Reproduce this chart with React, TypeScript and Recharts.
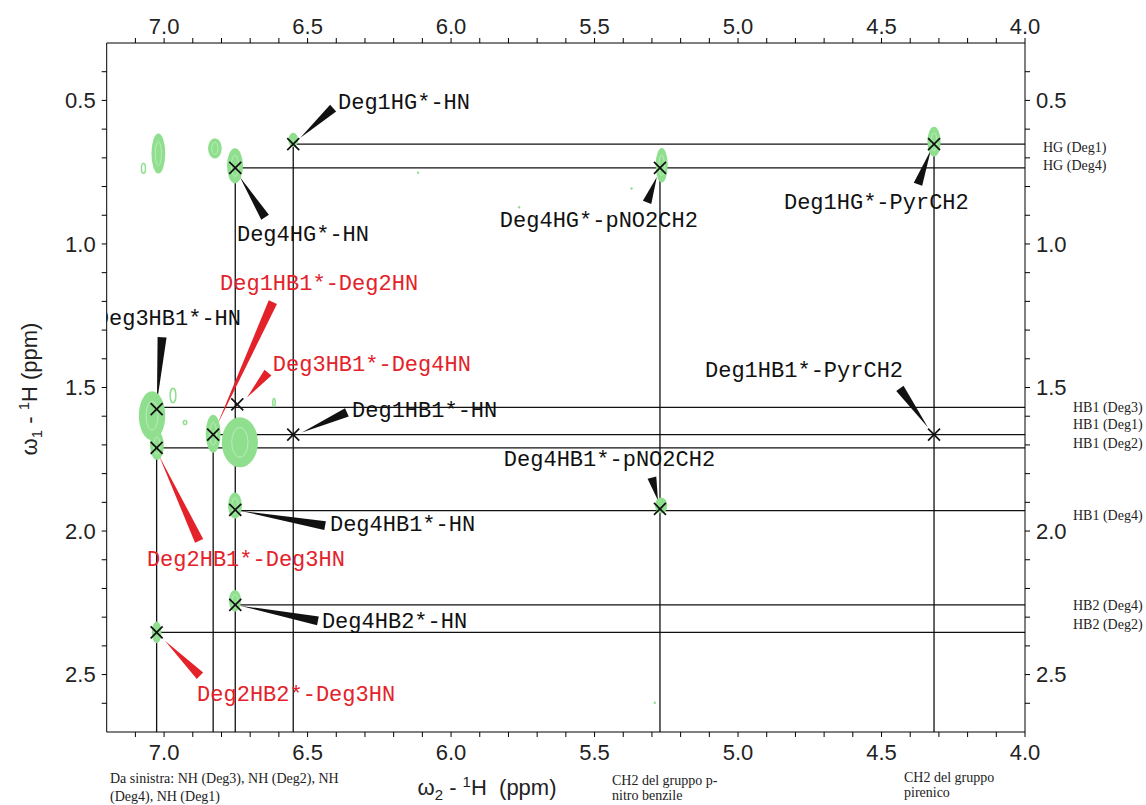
import React from "react";
import { ScatterChart, Scatter, XAxis, YAxis, ReferenceLine, ReferenceDot } from "recharts";

// ---- chart frame ----
const W = 1146;
const H = 805;
const AX = { left: 106.7, right: 121, top: 43, bottom: 73 };
const W2_DOMAIN: [number, number] = [4.0, 7.2];
const W1_DOMAIN: [number, number] = [0.3, 2.7];
const PX_W2 = (W - AX.left - AX.right) / (W2_DOMAIN[1] - W2_DOMAIN[0]);
const PX_W1 = (H - AX.top - AX.bottom) / (W1_DOMAIN[1] - W1_DOMAIN[0]);

const W2_TICKS = [
  7.1, 7.0, 6.9, 6.8, 6.7, 6.6, 6.5, 6.4, 6.3, 6.2, 6.1, 6.0, 5.9, 5.8, 5.7, 5.6,
  5.5, 5.4, 5.3, 5.2, 5.1, 5.0, 4.9, 4.8, 4.7, 4.6, 4.5, 4.4, 4.3, 4.2, 4.1, 4.0,
];
const W1_TICKS = [
  0.4, 0.5, 0.6, 0.7, 0.8, 0.9, 1.0, 1.1, 1.2, 1.3, 1.4, 1.5, 1.6, 1.7, 1.8, 1.9,
  2.0, 2.1, 2.2, 2.3, 2.4, 2.5, 2.6,
];

// ---- contour blobs (ppm centre, ppm half-extent) ----
const blobW2 = [7.02, 7.072, 6.823, 6.753, 6.55, 5.266, 4.317, 7.042, 7.025, 6.829, 6.736, 6.753, 6.753, 7.026, 5.268, 6.927, 6.617, 6.969, 5.371, 5.763, 6.115, 5.29];
const blobW1 = [0.685, 0.737, 0.667, 0.728, 0.638, 0.726, 0.644, 1.598, 1.702, 1.661, 1.691, 1.911, 2.243, 2.353, 1.911, 1.622, 1.552, 1.528, 0.807, 0.872, 0.752, 2.598];
const blobSpanW2 = [0.024, 0.007, 0.024, 0.028, 0.017, 0.021, 0.023, 0.046, 0.024, 0.026, 0.063, 0.024, 0.021, 0.017, 0.021, 0.006, 0.004, 0.01, 0.004, 0.004, 0.004, 0.004];
const blobSpanW1 = [0.07, 0.017, 0.035, 0.061, 0.025, 0.06, 0.052, 0.085, 0.05, 0.066, 0.087, 0.045, 0.038, 0.038, 0.028, 0.007, 0.014, 0.025, 0.004, 0.004, 0.004, 0.004];
const blobFilled = [true, false, true, true, true, true, true, true, true, true, true, true, true, true, true, false, false, false, true, true, true, true];

// ---- assigned cross peaks ----
const crossW2 = [6.55, 6.752, 5.272, 4.317, 7.026, 6.745, 6.829, 6.55, 4.317, 7.026, 6.752, 5.272, 6.752, 7.026];
const crossW1 = [0.652, 0.735, 0.735, 0.652, 1.575, 1.559, 1.664, 1.664, 1.664, 1.71, 1.926, 1.923, 2.257, 2.353];

// ---- resonance lines ----
const vLineW2 = [7.026, 6.829, 6.752, 6.55, 5.272, 4.317];
const vLineFromW1 = [1.575, 1.664, 0.735, 0.652, 0.735, 0.652];
const hLineW1 = [0.652, 0.735, 1.569, 1.664, 1.71, 1.929, 2.257, 2.353];
const hLineFromW2 = [6.55, 6.752, 7.026, 6.829, 7.026, 6.752, 6.752, 7.026];

// ---- peak labels ----
const labelText = [
  "Deg1HG*-HN", "Deg4HG*-HN", "Deg4HG*-pNO2CH2", "Deg1HG*-PyrCH2", "Deg3HB1*-HN",
  "Deg1HB1*-Deg2HN", "Deg3HB1*-Deg4HN", "Deg1HB1*-HN", "Deg1HB1*-PyrCH2", "Deg4HB1*-pNO2CH2",
  "Deg4HB1*-HN", "Deg2HB1*-Deg3HN", "Deg4HB2*-HN", "Deg2HB2*-Deg3HN",
];
const labelW2 = [6.394, 6.746, 5.83, 4.84, 7.238, 6.805, 6.621, 6.345, 5.115, 5.816, 6.422, 7.06, 6.45, 6.885];
const labelW1 = [0.53, 0.991, 0.942, 0.879, 1.284, 1.162, 1.441, 1.604, 1.465, 1.772, 1.999, 2.121, 2.337, 2.592];
const labelInter = [false, false, false, false, false, true, true, false, false, false, false, true, false, true];

// pointer wedges: wide end -> tip
const wedgeFromW2 = [6.411, 6.648, 5.317, 4.373, 7.007, 6.621, 6.638, 6.363, 4.436, 5.3, 6.439, 6.878, 6.464, 6.875];
const wedgeFromW1 = [0.527, 0.907, 0.855, 0.792, 1.325, 1.203, 1.448, 1.587, 1.503, 1.814, 1.981, 2.034, 2.313, 2.504];
const wedgeToW2 = [6.526, 6.736, 5.283, 4.328, 7.025, 6.816, 6.711, 6.52, 4.338, 5.279, 6.736, 7.018, 6.736, 6.997];
const wedgeToW1 = [0.631, 0.767, 0.767, 0.673, 1.552, 1.632, 1.535, 1.657, 1.639, 1.894, 1.929, 1.737, 2.26, 2.382];

// ---- right-side assignments ----
const sideText = ["HG (Deg1)", "HG (Deg4)", "HB1 (Deg3)", "HB1 (Deg1)", "HB1 (Deg2)", "HB1 (Deg4)", "HB2 (Deg4)", "HB2 (Deg2)"];
const sideW1 = [0.663, 0.726, 1.569, 1.63, 1.694, 1.946, 2.26, 2.324];

const BLACK = "#111";
const RED = "#e3222a";
const GREEN = "#8fdf8f";
const MONO = "'Liberation Mono', 'Courier New', monospace";
const SANS = "'Liberation Sans', Arial, sans-serif";
const SERIF = "'Liberation Serif', 'Times New Roman', serif";

const blobData = blobW2.map((x, i) => ({ x, y: blobW1[i], sx: blobSpanW2[i], sy: blobSpanW1[i], filled: blobFilled[i] }));
const crossData = crossW2.map((x, i) => ({ x, y: crossW1[i] }));

const fmt = (v: number) => (Math.abs(v * 2 - Math.round(v * 2)) < 1e-6 ? v.toFixed(1) : "");

const BlobShape = (p: any) => {
  const { cx, cy, payload } = p;
  const rx = Math.max(1.2, payload.sx * PX_W2);
  const ry = Math.max(1.2, payload.sy * PX_W1);
  if (!payload.filled) {
    return <ellipse cx={cx} cy={cy} rx={rx} ry={ry} fill="none" stroke={GREEN} strokeWidth={1.5} />;
  }
  return (
    <g>
      <ellipse cx={cx} cy={cy} rx={rx} ry={ry} fill={GREEN} />
      {rx > 5 && ry > 9 && (
        <ellipse cx={cx} cy={cy} rx={rx * 0.45} ry={ry * 0.6} fill="none" stroke="#b9ecb9" strokeWidth={1} />
      )}
    </g>
  );
};

const CrossShape = (p: any) => {
  const { cx, cy } = p;
  const s = 6;
  return (
    <g stroke={BLACK} strokeWidth={1.7}>
      <line x1={cx - s} y1={cy - s} x2={cx + s} y2={cy + s} />
      <line x1={cx - s} y1={cy + s} x2={cx + s} y2={cy - s} />
    </g>
  );
};

const wedgeShape = (color: string, half: number) => (p: any) => {
  const { x1, y1, x2, y2 } = p;
  const dx = x2 - x1;
  const dy = y2 - y1;
  const len = Math.hypot(dx, dy) || 1;
  const nx = (-dy / len) * half;
  const ny = (dx / len) * half;
  return <polygon points={`${x1 + nx},${y1 + ny} ${x1 - nx},${y1 - ny} ${x2},${y2}`} fill={color} />;
};

const tickStyle = { fill: "#222", fontSize: 22, fontFamily: SANS };

export default function App() {
  return (
    <div style={{ position: "absolute", left: 0, top: 0, width: W, height: H, background: "#fff" }}>
      <ScatterChart width={W} height={H} margin={{ top: 0, right: 0, bottom: 0, left: 0 }}>
        <XAxis xAxisId="b" orientation="bottom" type="number" dataKey="x" domain={W2_DOMAIN} reversed
          allowDataOverflow ticks={W2_TICKS} interval={0} tickFormatter={fmt} height={AX.bottom}
          tickSize={5} tickMargin={7} stroke="#000" tick={tickStyle} />
        <XAxis xAxisId="t" orientation="top" type="number" dataKey="x" domain={W2_DOMAIN} reversed
          allowDataOverflow ticks={W2_TICKS} interval={0} tickFormatter={fmt} height={AX.top}
          tickSize={5} tickMargin={4} stroke="#000" tick={tickStyle} />
        <YAxis yAxisId="l" orientation="left" type="number" dataKey="y" domain={W1_DOMAIN} reversed
          allowDataOverflow ticks={W1_TICKS} interval={0} tickFormatter={fmt} width={AX.left}
          tickSize={5} tickMargin={6} stroke="#000" tick={tickStyle} />
        <YAxis yAxisId="r" orientation="right" type="number" dataKey="y" domain={W1_DOMAIN} reversed
          allowDataOverflow ticks={W1_TICKS} interval={0} tickFormatter={fmt} width={AX.right}
          tickSize={5} tickMargin={6} stroke="#000" tick={tickStyle} />

        <Scatter xAxisId="b" yAxisId="l" data={blobData} shape={BlobShape} isAnimationActive={false} />

        {vLineW2.map((x, i) => (
          <ReferenceLine key={`v${i}`} xAxisId="b" yAxisId="l" ifOverflow="visible"
            segment={[{ x, y: vLineFromW1[i] }, { x, y: W1_DOMAIN[1] }]} stroke={BLACK} strokeWidth={1.3} />
        ))}
        {hLineW1.map((y, i) => (
          <ReferenceLine key={`h${i}`} xAxisId="b" yAxisId="l" ifOverflow="visible"
            segment={[{ x: hLineFromW2[i], y }, { x: W2_DOMAIN[0], y }]} stroke={BLACK} strokeWidth={1.3} />
        ))}

        <Scatter xAxisId="b" yAxisId="l" data={crossData} shape={CrossShape} isAnimationActive={false} />

        {wedgeFromW2.map((x, i) => (
          <ReferenceLine key={`w${i}`} xAxisId="b" yAxisId="l" ifOverflow="visible"
            segment={[{ x, y: wedgeFromW1[i] }, { x: wedgeToW2[i], y: wedgeToW1[i] }]}
            shape={wedgeShape(labelInter[i] ? RED : BLACK, 4.5)} />
        ))}

        {labelText.map((t, i) => (
          <ReferenceDot key={`l${i}`} xAxisId="b" yAxisId="l" x={labelW2[i]} y={labelW1[i]} ifOverflow="hidden"
            shape={(p: any) => (
              <text x={p.cx} y={p.cy} clipPath={p.clipPath} fill={labelInter[i] ? RED : BLACK}
                fontFamily={MONO} fontSize={22}>{t}</text>
            )} />
        ))}

        {sideText.map((t, i) => (
          <ReferenceDot key={`s${i}`} xAxisId="b" yAxisId="l" x={W2_DOMAIN[0]} y={sideW1[i]} ifOverflow="visible"
            shape={(p: any) => (
              <text x={p.cx + (t.startsWith("HG") ? 18 : 48)} y={p.cy} dominantBaseline="central"
                fill="#222" fontFamily={SERIF} fontSize={14}>{t}</text>
            )} />
        ))}
      </ScatterChart>

      <svg width={W} height={H} style={{ position: "absolute", left: 0, top: 0, pointerEvents: "none" }}>
        <text x={37} y={389} transform="rotate(-90 37 389)" textAnchor="middle" fontFamily={SANS} fontSize={22} fill="#222">
          ω<tspan fontSize={15} dy={5}>1</tspan><tspan dy={-5}> - </tspan>
          <tspan fontSize={15} dy={-8}>1</tspan><tspan dy={8}>H (ppm)</tspan>
        </text>
        <text x={487} y={795} textAnchor="middle" fontFamily={SANS} fontSize={22} fill="#222">
          ω<tspan fontSize={15} dy={5}>2</tspan><tspan dy={-5}> - </tspan>
          <tspan fontSize={15} dy={-8}>1</tspan><tspan dy={8} style={{ whiteSpace: "pre" }}>H  (ppm)</tspan>
        </text>
        <g fontFamily={SERIF} fontSize={14} fill="#222">
          <text x={110} y={783}>Da sinistra: NH (Deg3), NH (Deg2), NH</text>
          <text x={110} y={801}>(Deg4), NH (Deg1)</text>
          <text x={612} y={785}>CH2 del gruppo p-</text>
          <text x={612} y={800}>nitro benzile</text>
          <text x={904} y={782}>CH2 del gruppo</text>
          <text x={904} y={797}>pirenico</text>
        </g>
      </svg>
    </div>
  );
}
